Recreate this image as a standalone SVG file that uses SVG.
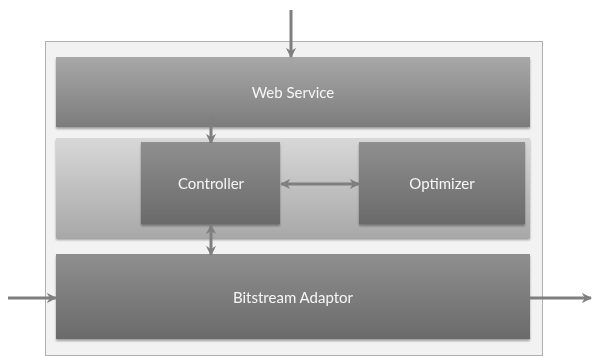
<svg xmlns="http://www.w3.org/2000/svg" width="592" height="356" viewBox="0 0 592 356">
  <defs>
    <linearGradient id="gDark" x1="0" y1="0" x2="0" y2="1">
      <stop offset="0" stop-color="#a8a8a8"/>
      <stop offset="1" stop-color="#7c7c7c"/>
    </linearGradient>
    <linearGradient id="gBlock" x1="0" y1="0" x2="0" y2="1">
      <stop offset="0" stop-color="#8f8f8f"/>
      <stop offset="1" stop-color="#6a6a6a"/>
    </linearGradient>
    <linearGradient id="gBand" x1="0" y1="0" x2="0" y2="1">
      <stop offset="0" stop-color="#d8d8d8"/>
      <stop offset="1" stop-color="#a8a8a8"/>
    </linearGradient>
    <filter id="shadow" x="-5%" y="-10%" width="110%" height="125%">
      <feGaussianBlur in="SourceAlpha" stdDeviation="1.2"/>
      <feOffset dx="0" dy="1.5" result="b"/>
      <feComponentTransfer><feFuncA type="linear" slope="0.35"/></feComponentTransfer>
      <feMerge><feMergeNode/><feMergeNode in="SourceGraphic"/></feMerge>
    </filter>
    <marker id="head" viewBox="0 0 10 10" refX="9" refY="5" markerWidth="3.4" markerHeight="3.4" orient="auto-start-reverse" markerUnits="strokeWidth">
      <path d="M0,0 L10,5 L0,10 L3,5 Z" fill="#7f7f7f"/>
    </marker>
  </defs>
  <style>
    .lbl { font-family: "Lato", "Open Sans", sans-serif; font-size: 15px; fill: #f6f6f6; text-anchor: middle; }
    .conn { stroke: #7f7f7f; stroke-width: 3; fill: none; }
  </style>

  <!-- outer container -->
  <rect x="45.5" y="41.5" width="497" height="314" fill="#f2f2f2" stroke="#b0b0b0" stroke-width="1"/>

  <g id="web-service" filter="url(#shadow)">
    <rect x="56" y="57" width="474" height="70" fill="url(#gDark)"/>
    <text class="lbl" x="293" y="98">Web Service</text>
  </g>

  <g id="logic-band" filter="url(#shadow)">
    <rect x="56" y="138" width="474" height="100" fill="url(#gBand)"/>
  </g>

  <g id="controller" filter="url(#shadow)">
    <rect x="141" y="142" width="139" height="82" fill="url(#gBlock)"/>
    <text class="lbl" x="211" y="189">Controller</text>
  </g>

  <g id="optimizer" filter="url(#shadow)">
    <rect x="359" y="142" width="166" height="82" fill="url(#gBlock)"/>
    <text class="lbl" x="442" y="189">Optimizer</text>
  </g>

  <g id="bitstream-adaptor" filter="url(#shadow)">
    <rect x="56" y="254" width="474" height="85" fill="url(#gBlock)"/>
    <text class="lbl" x="293" y="303">Bitstream Adaptor</text>
  </g>

  <g id="connectors">
    <line class="conn" x1="291" y1="10" x2="291" y2="57" marker-end="url(#head)"/>
    <line class="conn" x1="211" y1="116" x2="211" y2="143" marker-end="url(#head)"/>
    <line class="conn" x1="281" y1="184" x2="359" y2="184" marker-start="url(#head)" marker-end="url(#head)"/>
    <line class="conn" x1="211" y1="225" x2="211" y2="255" marker-start="url(#head)" marker-end="url(#head)"/>
    <line class="conn" x1="8" y1="298" x2="56" y2="298" marker-end="url(#head)"/>
    <line class="conn" x1="530" y1="298" x2="591" y2="298" marker-end="url(#head)"/>
  </g>
</svg>
